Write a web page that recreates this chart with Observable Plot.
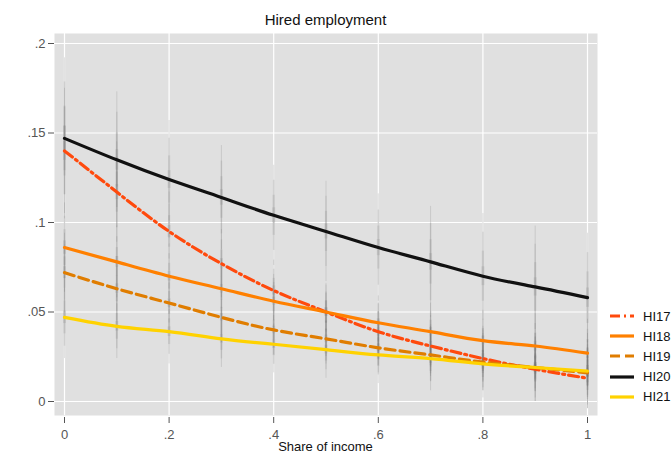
<!DOCTYPE html>
<html><head><meta charset="utf-8">
<script src="https://cdn.jsdelivr.net/npm/d3@7"></script>
<script src="https://cdn.jsdelivr.net/npm/@observablehq/plot@0.6"></script>
<style>
body{margin:0;background:#fff;font-family:"Liberation Sans",Arial,sans-serif}
#wrap{position:relative;width:672px;height:454px;overflow:hidden}
#title{position:absolute;top:11px;left:0;width:651px;text-align:center;font-size:15px;line-height:17px;color:#111}
#chart{position:absolute;top:33px;left:0}
#xtitle{position:absolute;top:440px;left:0;width:651px;text-align:center;font-size:13px;line-height:14px;color:#111}
#legend{position:absolute;left:609px;top:306px}
.row{display:flex;align-items:center;height:20.2px;font-size:13px;color:#111;white-space:nowrap}
.row svg{margin-right:8px;flex:none}
</style></head>
<body><div id="wrap">
<div id="title">Hired employment</div>
<div id="chart"></div>
<div id="xtitle">Share of income</div>
<div id="legend"></div>
</div>
<script>
// share of income (x positions)
const shares = [0, 0.1, 0.2, 0.3, 0.4, 0.5, 0.6, 0.7, 0.8, 0.9, 1];
const seriesNames = ["HI17", "HI18", "HI19", "HI20", "HI21"];
const seriesColors = ["#ff4a0d", "#ff8000", "#e07d00", "#111111", "#ffd200"];
const seriesDash = ["10,4,2,4", null, "10,5", null, null];
// predicted values
const hi17 = [0.140, 0.117, 0.095, 0.077, 0.062, 0.050, 0.039, 0.031, 0.024, 0.018, 0.013];
const hi18 = [0.086, 0.078, 0.070, 0.063, 0.056, 0.050, 0.044, 0.039, 0.034, 0.031, 0.027];
const hi19 = [0.072, 0.063, 0.055, 0.047, 0.040, 0.035, 0.030, 0.026, 0.022, 0.019, 0.016];
const hi20 = [0.147, 0.135, 0.124, 0.114, 0.104, 0.095, 0.086, 0.078, 0.070, 0.064, 0.058];
const hi21 = [0.047, 0.042, 0.039, 0.035, 0.032, 0.029, 0.026, 0.024, 0.021, 0.019, 0.017];
// confidence interval half-widths
const hi17Half = [0.035, 0.028, 0.022, 0.019, 0.017, 0.016, 0.016, 0.017, 0.018, 0.018, 0.017];
const hi18Half = [0.025, 0.020, 0.018, 0.016, 0.015, 0.015, 0.015, 0.016, 0.017, 0.018, 0.019];
const hi19Half = [0.022, 0.018, 0.016, 0.014, 0.014, 0.014, 0.014, 0.015, 0.016, 0.017, 0.018];
const hi20Half = [0.045, 0.038, 0.033, 0.029, 0.028, 0.028, 0.030, 0.031, 0.035, 0.034, 0.036];
const hi21Half = [0.023, 0.018, 0.018, 0.016, 0.016, 0.016, 0.016, 0.018, 0.019, 0.019, 0.021];
// axis ticks
const yTicks = [0, 0.05, 0.1, 0.15, 0.2];
const xTicks = [0, 0.2, 0.4, 0.6, 0.8, 1];

const values = [hi17, hi18, hi19, hi20, hi21];
const halves = [hi17Half, hi18Half, hi19Half, hi20Half, hi21Half];
const rows = [];
seriesNames.forEach((s, i) => shares.forEach((x, j) => {
  rows.push({series: s, x, y: values[i][j], h: halves[i][j]});
}));
const fmt = d => d === 0 ? "0" : String(d).replace(/^0/, "");

const marks = [
  Plot.frame({fill: "#e0e0e0", stroke: "none"}),
  Plot.gridY(yTicks, {stroke: "#ffffff", strokeOpacity: 1, strokeWidth: 1.2}),
  Plot.gridX(xTicks, {stroke: "#ffffff", strokeOpacity: 1, strokeWidth: 1.2})
];
// tapered confidence spikes: layered rules, narrower layers nearer the estimate
[[1, 1.0, 0.2], [0.7, 1.5, 0.16], [0.4, 2.2, 0.15], [0.15, 3, 0.15]].forEach(([f, w, o]) => {
  marks.push(Plot.ruleX(rows, {x: "x", y1: d => d.y - d.h * f, y2: d => d.y + d.h * f,
    stroke: "#6e6e6e", strokeOpacity: o, strokeWidth: w}));
});
seriesNames.forEach((s, i) => {
  marks.push(Plot.line(rows.filter(r => r.series === s), {
    x: "x", y: "y", stroke: seriesColors[i], strokeWidth: 3.2, curve: "natural",
    strokeDasharray: seriesDash[i] || undefined
  }));
});
marks.push(
  Plot.axisY({ticks: yTicks, tickFormat: fmt, tickSize: 6, tickPadding: 3, label: null, color: "#555", fontSize: 13}),
  Plot.axisX({ticks: xTicks, tickFormat: fmt, tickSize: 6, tickPadding: 6, dy: 2, label: null, color: "#555", fontSize: 13})
);

const chart = Plot.plot({
  width: 672, height: 421,
  marginTop: 0, marginLeft: 54, marginRight: 75, marginBottom: 39,
  x: {domain: [0, 1], insetLeft: 10, insetRight: 10},
  y: {domain: [0, 0.2], insetTop: 10, insetBottom: 14},
  style: {fontFamily: "'Liberation Sans', Arial, sans-serif", fontSize: "13px", background: "transparent", color: "#555"},
  marks
});
document.getElementById("chart").appendChild(chart);

const legend = document.getElementById("legend");
seriesNames.forEach((s, i) => {
  const row = document.createElement("div");
  row.className = "row";
  row.innerHTML = `<svg width="26" height="8"><line x1="1" x2="25" y1="4" y2="4" stroke="${seriesColors[i]}" stroke-width="3.2" ${seriesDash[i] ? `stroke-dasharray="${seriesDash[i]}"` : ""}/></svg><span>${s}</span>`;
  legend.appendChild(row);
});
</script>
</body></html>
